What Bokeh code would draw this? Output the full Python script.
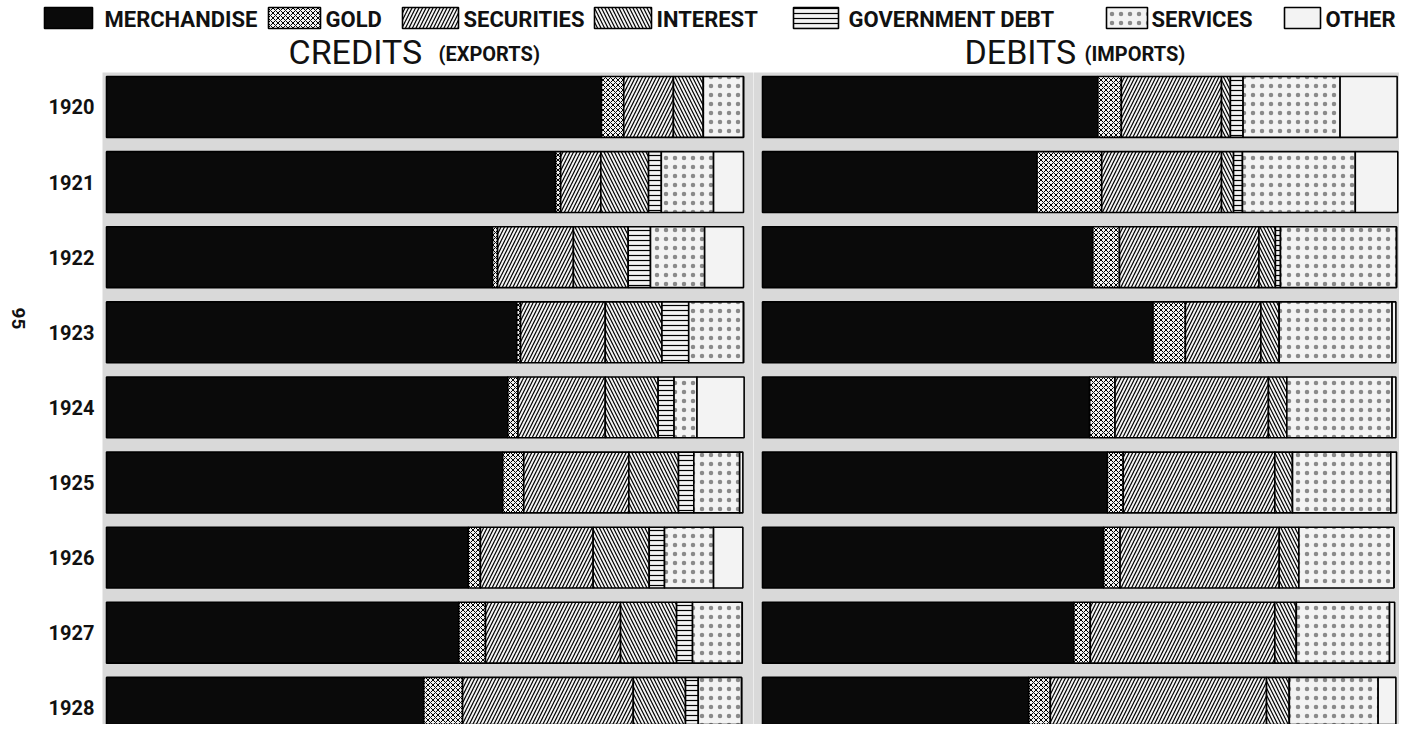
import math
from bokeh.plotting import figure
from bokeh.models import ColumnDataSource, Range1d, FixedTicker
from bokeh.layouts import column, row
from bokeh.embed import file_html
from bokeh.resources import INLINE
from bokeh.core.properties import value

# ---------------- data (share of each year's total, %) ----------------
years = ["1920", "1921", "1922", "1923", "1924", "1925", "1926", "1927", "1928"]
categories = ["MERCHANDISE", "GOLD", "SECURITIES", "INTEREST",
              "GOVERNMENT DEBT", "SERVICES", "OTHER"]

credit_merchandise = [77.7, 70.5, 60.6, 64.4, 63.0, 62.2, 56.8, 55.3, 49.8]
credit_gold = [3.5, 0.8, 0.8, 0.6, 1.6, 3.3, 1.9, 4.2, 6.1]
credit_securities = [7.8, 6.3, 11.9, 13.3, 13.7, 16.5, 17.7, 21.2, 26.8]
credit_interest = [4.7, 7.5, 8.6, 8.9, 8.3, 7.8, 8.8, 8.8, 8.2]
credit_government_debt = [0.0, 2.0, 3.5, 4.2, 2.5, 2.4, 2.4, 2.5, 2.0]
credit_services = [6.3, 8.2, 8.5, 8.6, 3.6, 7.2, 7.7, 7.8, 6.8]
credit_other = [0.0, 4.7, 6.1, 0.0, 7.4, 0.5, 4.6, 0.0, 0.0]

debit_merchandise = [52.9, 43.3, 52.1, 61.6, 51.6, 54.4, 53.8, 49.1, 42.0]
debit_gold = [3.7, 10.2, 4.2, 5.1, 4.0, 2.5, 2.6, 2.6, 3.4]
debit_securities = [15.8, 18.9, 22.0, 11.9, 24.2, 23.9, 25.1, 29.1, 34.1]
debit_interest = [1.4, 1.9, 2.6, 2.9, 2.9, 2.8, 3.1, 3.4, 3.6]
debit_government_debt = [2.0, 1.4, 0.8, 0.0, 0.0, 0.0, 0.0, 0.0, 0.0]
debit_services = [15.3, 17.8, 18.3, 17.8, 16.6, 15.5, 15.0, 14.7, 14.0]
debit_other = [9.0, 6.7, 0.0, 0.6, 0.6, 0.9, 0.0, 0.8, 2.8]

page_number = "95"

# ---------------- styles ----------------
FONT = "Roboto"
INK = "#111111"
PANEL_BG = "#d9d9d9"
keys = ["merchandise", "gold", "securities", "interest", "government_debt", "services", "other"]
fills = ["#0a0a0a", "#f3f3f3", "#f3f3f3", "#f3f3f3", "#f3f3f3", "#f3f3f3", "#f3f3f3"]
hatches = ["blank", "diagonal_cross", "right_diagonal_line", "left_diagonal_line",
           "horizontal_line", "dot", "blank"]
hatch_scales = [6, 5, 7, 7, 5, 9, 6]
hatch_weights = [1, 1, 1.2, 1.2, 1.2, 1.5, 1]
hatch_colors = ["black", "black", "black", "black", "black", "#8a8a8a", "black"]

idx = list(range(len(years)))

credit_src = ColumnDataSource(dict(
    y=idx, merchandise=credit_merchandise, gold=credit_gold, securities=credit_securities,
    interest=credit_interest, government_debt=credit_government_debt,
    services=credit_services, other=credit_other))
debit_src = ColumnDataSource(dict(
    y=idx, merchandise=debit_merchandise, gold=debit_gold, securities=debit_securities,
    interest=debit_interest, government_debt=debit_government_debt,
    services=debit_services, other=debit_other))

TOTAL_W, TOTAL_H = 1399, 724
HEAD_H = 72
PANEL_H = TOTAL_H - HEAD_H
Y_RANGE = (8.222 - 0.459 + 0.459 - 0.0, -0.459)
BAR_H = 0.81


def style_panel(p):
    p.background_fill_color = PANEL_BG
    p.border_fill_color = "white"
    p.outline_line_color = None
    p.grid.visible = False
    p.min_border_top = 0
    p.min_border_bottom = 0
    p.min_border_right = 0


def draw_bars(p, src):
    p.hbar_stack(keys, y="y", height=BAR_H, source=src,
                 fill_color=fills, line_color="black", line_width=1.6,
                 hatch_pattern=hatches, hatch_scale=hatch_scales,
                 hatch_weight=hatch_weights, hatch_color=hatch_colors)


# narrow strip on the far left carrying the page number
p0 = figure(width=40, height=PANEL_H, x_range=Range1d(0, 40), y_range=Range1d(TOTAL_H, HEAD_H),
            x_axis_location=None, y_axis_location=None,
            output_backend="svg", toolbar_location=None, min_border=0)
p0.outline_line_color = None
p0.grid.visible = False
p0.text(x=[18], y=[318], text=[page_number], angle=-math.pi / 2,
        text_font=value(FONT), text_font_size="19px", text_font_style="bold",
        text_color=INK, text_align="center", text_baseline="middle")

# credits panel
p1 = figure(width=713, height=PANEL_H, x_range=Range1d(-0.63, 101.57),
            y_range=Range1d(*Y_RANGE), x_axis_location=None,
            output_backend="svg", toolbar_location=None, min_border_left=62)
style_panel(p1)
draw_bars(p1, credit_src)
p1.yaxis.ticker = FixedTicker(ticks=idx)
p1.yaxis.major_label_overrides = {i: y for i, y in zip(idx, years)}
p1.yaxis.axis_line_color = None
p1.yaxis.major_tick_line_color = None
p1.yaxis.minor_tick_line_color = None
p1.yaxis.major_label_standoff = 2
p1.yaxis.major_label_text_font = FONT
p1.yaxis.major_label_text_font_style = "bold"
p1.yaxis.major_label_text_font_size = "20px"
p1.yaxis.major_label_text_color = INK

# debits panel
p2 = figure(width=TOTAL_W - 40 - 713, height=PANEL_H, x_range=Range1d(-1.42, 100.47),
            y_range=Range1d(*Y_RANGE), x_axis_location=None, y_axis_location=None,
            output_backend="svg", toolbar_location=None, min_border_left=0)
style_panel(p2)
draw_bars(p2, debit_src)

# header: legend and panel titles
h = figure(width=TOTAL_W, height=HEAD_H, x_range=Range1d(0, TOTAL_W), y_range=Range1d(HEAD_H, 0),
           x_axis_location=None, y_axis_location=None,
           output_backend="svg", toolbar_location=None)
h.outline_line_color = None
h.grid.visible = False
h.min_border = 0
h.border_fill_color = "white"
h.background_fill_color = "white"

sw_left = [44, 268, 402, 594, 793, 1106, 1284]
sw_right = [92, 320, 458, 651, 838, 1147, 1320]
lab_x = [104, 325, 463, 656, 848, 1151, 1325]
leg_src = ColumnDataSource(dict(
    left=sw_left, right=sw_right, fill=fills, hatch=hatches,
    hscale=hatch_scales, hweight=hatch_weights, hcolor=hatch_colors,
    lx=lab_x, label=categories))
h.quad(left="left", right="right", top=7, bottom=28, source=leg_src,
       fill_color="fill", line_color="black", line_width=1.6,
       hatch_pattern="hatch", hatch_scale="hscale", hatch_weight="hweight",
       hatch_color="hcolor")
h.text(x="lx", y=18.5, text="label", source=leg_src, text_font=value(FONT),
       text_font_style="bold", text_font_size="22px", text_color=INK,
       text_baseline="alphabetic", text_align="left")

h.text(x=[288, 964], y=[51, 51], text=["CREDITS", "DEBITS"], text_font=value(FONT),
       text_font_size="34px", text_color=INK, text_baseline="alphabetic")
h.text(x=[438, 1084], y=[53, 53], text=["(EXPORTS)", "(IMPORTS)"], text_font=value(FONT),
       text_font_size="20px", text_font_style="bold", text_color=INK,
       text_baseline="alphabetic")

layout = column(h, row(p0, p1, p2, spacing=0), spacing=0)

open("out.html", "w").write(file_html(layout, INLINE))
